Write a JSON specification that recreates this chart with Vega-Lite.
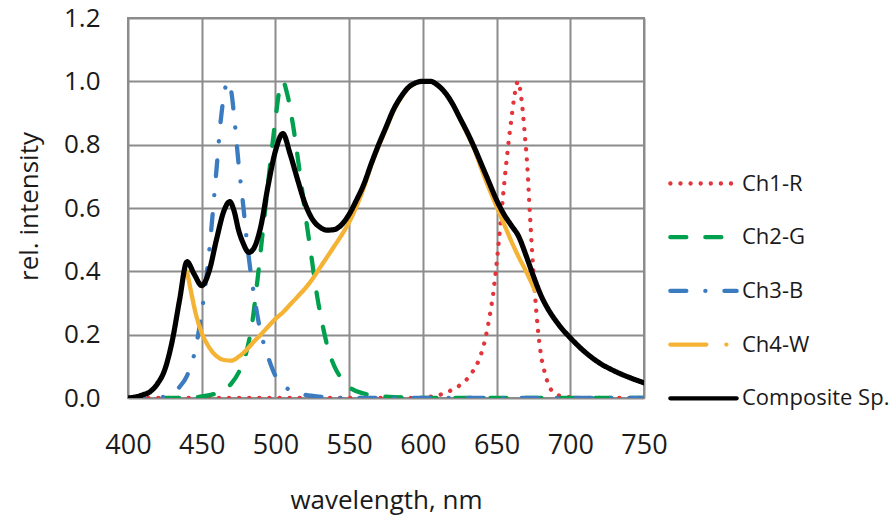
{
  "$schema": "https://vega.github.io/schema/vega-lite/v6.json",
  "width": 516,
  "height": 380,
  "autosize": {"type": "none"},
  "padding": {"left": 128, "top": 18, "right": 249, "bottom": 127},
  "background": "white",
  "config": {
    "view": {"stroke": "#8c8c8c", "strokeWidth": 2},
    "font": "Open Sans"
  },
  "data": {"values": [
    {"wl":400,"v":0,"s":"Ch1-R"},{"wl":600,"v":0,"s":"Ch1-R"},{"wl":605,"v":0.004,"s":"Ch1-R"},{"wl":610,"v":0.008,"s":"Ch1-R"},{"wl":615,"v":0.016,"s":"Ch1-R"},{"wl":620,"v":0.026,"s":"Ch1-R"},{"wl":625,"v":0.04,"s":"Ch1-R"},{"wl":630,"v":0.06,"s":"Ch1-R"},{"wl":634,"v":0.085,"s":"Ch1-R"},{"wl":638,"v":0.12,"s":"Ch1-R"},{"wl":642,"v":0.18,"s":"Ch1-R"},{"wl":645,"v":0.25,"s":"Ch1-R"},{"wl":648,"v":0.34,"s":"Ch1-R"},{"wl":651,"v":0.47,"s":"Ch1-R"},{"wl":654,"v":0.62,"s":"Ch1-R"},{"wl":657,"v":0.76,"s":"Ch1-R"},{"wl":660,"v":0.88,"s":"Ch1-R"},{"wl":662,"v":0.95,"s":"Ch1-R"},{"wl":664.5,"v":1.0,"s":"Ch1-R"},{"wl":667,"v":0.94,"s":"Ch1-R"},{"wl":669,"v":0.84,"s":"Ch1-R"},{"wl":671,"v":0.72,"s":"Ch1-R"},{"wl":672.5,"v":0.59,"s":"Ch1-R"},{"wl":674,"v":0.47,"s":"Ch1-R"},{"wl":676,"v":0.33,"s":"Ch1-R"},{"wl":678,"v":0.22,"s":"Ch1-R"},{"wl":680,"v":0.14,"s":"Ch1-R"},{"wl":683,"v":0.075,"s":"Ch1-R"},{"wl":688,"v":0.02,"s":"Ch1-R"},{"wl":695,"v":0.005,"s":"Ch1-R"},{"wl":710,"v":0,"s":"Ch1-R"},{"wl":750,"v":0,"s":"Ch1-R"},

    {"wl":400,"v":0,"s":"Ch2-G"},{"wl":440,"v":0,"s":"Ch2-G"},{"wl":450,"v":0.005,"s":"Ch2-G"},{"wl":460,"v":0.015,"s":"Ch2-G"},{"wl":465,"v":0.025,"s":"Ch2-G"},{"wl":470,"v":0.045,"s":"Ch2-G"},{"wl":475,"v":0.08,"s":"Ch2-G"},{"wl":480,"v":0.14,"s":"Ch2-G"},{"wl":484,"v":0.23,"s":"Ch2-G"},{"wl":488,"v":0.38,"s":"Ch2-G"},{"wl":492,"v":0.55,"s":"Ch2-G"},{"wl":496,"v":0.72,"s":"Ch2-G"},{"wl":500,"v":0.88,"s":"Ch2-G"},{"wl":503,"v":0.98,"s":"Ch2-G"},{"wl":505,"v":1.0,"s":"Ch2-G"},{"wl":508,"v":0.96,"s":"Ch2-G"},{"wl":512,"v":0.86,"s":"Ch2-G"},{"wl":516,"v":0.73,"s":"Ch2-G"},{"wl":520,"v":0.59,"s":"Ch2-G"},{"wl":524,"v":0.46,"s":"Ch2-G"},{"wl":528,"v":0.33,"s":"Ch2-G"},{"wl":532,"v":0.23,"s":"Ch2-G"},{"wl":536,"v":0.15,"s":"Ch2-G"},{"wl":540,"v":0.1,"s":"Ch2-G"},{"wl":545,"v":0.06,"s":"Ch2-G"},{"wl":550,"v":0.035,"s":"Ch2-G"},{"wl":560,"v":0.014,"s":"Ch2-G"},{"wl":570,"v":0.006,"s":"Ch2-G"},{"wl":580,"v":0.003,"s":"Ch2-G"},{"wl":600,"v":0,"s":"Ch2-G"},{"wl":750,"v":0,"s":"Ch2-G"},

    {"wl":400,"v":0,"s":"Ch3-B"},{"wl":420,"v":0,"s":"Ch3-B"},{"wl":425,"v":0.005,"s":"Ch3-B"},{"wl":430,"v":0.015,"s":"Ch3-B"},{"wl":435,"v":0.035,"s":"Ch3-B"},{"wl":440,"v":0.07,"s":"Ch3-B"},{"wl":445,"v":0.14,"s":"Ch3-B"},{"wl":450,"v":0.27,"s":"Ch3-B"},{"wl":455,"v":0.46,"s":"Ch3-B"},{"wl":460,"v":0.72,"s":"Ch3-B"},{"wl":463,"v":0.88,"s":"Ch3-B"},{"wl":466,"v":0.98,"s":"Ch3-B"},{"wl":468,"v":1.0,"s":"Ch3-B"},{"wl":470,"v":0.97,"s":"Ch3-B"},{"wl":472,"v":0.89,"s":"Ch3-B"},{"wl":475,"v":0.74,"s":"Ch3-B"},{"wl":478,"v":0.615,"s":"Ch3-B"},{"wl":481,"v":0.48,"s":"Ch3-B"},{"wl":485,"v":0.34,"s":"Ch3-B"},{"wl":489,"v":0.23,"s":"Ch3-B"},{"wl":495,"v":0.13,"s":"Ch3-B"},{"wl":500,"v":0.07,"s":"Ch3-B"},{"wl":505,"v":0.04,"s":"Ch3-B"},{"wl":510,"v":0.025,"s":"Ch3-B"},{"wl":520,"v":0.01,"s":"Ch3-B"},{"wl":530,"v":0.004,"s":"Ch3-B"},{"wl":550,"v":0,"s":"Ch3-B"},{"wl":750,"v":0,"s":"Ch3-B"},

    {"wl":440,"v":0.4,"s":"Ch4-W"},{"wl":443,"v":0.33,"s":"Ch4-W"},{"wl":446,"v":0.265,"s":"Ch4-W"},{"wl":450,"v":0.205,"s":"Ch4-W"},{"wl":455,"v":0.16,"s":"Ch4-W"},{"wl":460,"v":0.132,"s":"Ch4-W"},{"wl":465,"v":0.12,"s":"Ch4-W"},{"wl":470,"v":0.118,"s":"Ch4-W"},{"wl":475,"v":0.13,"s":"Ch4-W"},{"wl":480,"v":0.15,"s":"Ch4-W"},{"wl":485,"v":0.176,"s":"Ch4-W"},{"wl":490,"v":0.2,"s":"Ch4-W"},{"wl":495,"v":0.225,"s":"Ch4-W"},{"wl":500,"v":0.25,"s":"Ch4-W"},{"wl":505,"v":0.27,"s":"Ch4-W"},{"wl":510,"v":0.295,"s":"Ch4-W"},{"wl":515,"v":0.32,"s":"Ch4-W"},{"wl":520,"v":0.345,"s":"Ch4-W"},{"wl":525,"v":0.375,"s":"Ch4-W"},{"wl":530,"v":0.41,"s":"Ch4-W"},{"wl":535,"v":0.445,"s":"Ch4-W"},{"wl":540,"v":0.48,"s":"Ch4-W"},{"wl":545,"v":0.515,"s":"Ch4-W"},{"wl":550,"v":0.555,"s":"Ch4-W"},{"wl":555,"v":0.605,"s":"Ch4-W"},{"wl":560,"v":0.665,"s":"Ch4-W"},{"wl":565,"v":0.735,"s":"Ch4-W"},{"wl":570,"v":0.795,"s":"Ch4-W"},{"wl":575,"v":0.85,"s":"Ch4-W"},{"wl":580,"v":0.905,"s":"Ch4-W"},{"wl":585,"v":0.947,"s":"Ch4-W"},{"wl":590,"v":0.978,"s":"Ch4-W"},{"wl":595,"v":0.995,"s":"Ch4-W"},{"wl":600,"v":1.0,"s":"Ch4-W"},{"wl":605,"v":1.0,"s":"Ch4-W"},{"wl":610,"v":0.988,"s":"Ch4-W"},{"wl":615,"v":0.965,"s":"Ch4-W"},{"wl":620,"v":0.93,"s":"Ch4-W"},{"wl":625,"v":0.885,"s":"Ch4-W"},{"wl":630,"v":0.835,"s":"Ch4-W"},{"wl":635,"v":0.785,"s":"Ch4-W"},{"wl":640,"v":0.72,"s":"Ch4-W"},{"wl":645,"v":0.66,"s":"Ch4-W"},{"wl":650,"v":0.605,"s":"Ch4-W"},{"wl":655,"v":0.55,"s":"Ch4-W"},{"wl":660,"v":0.495,"s":"Ch4-W"},{"wl":665,"v":0.445,"s":"Ch4-W"},{"wl":670,"v":0.4,"s":"Ch4-W"},{"wl":676,"v":0.34,"s":"Ch4-W"},

    {"wl":400,"v":0,"s":"Composite Sp."},{"wl":405,"v":0.003,"s":"Composite Sp."},{"wl":410,"v":0.01,"s":"Composite Sp."},{"wl":415,"v":0.02,"s":"Composite Sp."},{"wl":420,"v":0.045,"s":"Composite Sp."},{"wl":425,"v":0.09,"s":"Composite Sp."},{"wl":430,"v":0.18,"s":"Composite Sp."},{"wl":435,"v":0.31,"s":"Composite Sp."},{"wl":440,"v":0.43,"s":"Composite Sp."},{"wl":445,"v":0.39,"s":"Composite Sp."},{"wl":450,"v":0.355,"s":"Composite Sp."},{"wl":455,"v":0.4,"s":"Composite Sp."},{"wl":460,"v":0.5,"s":"Composite Sp."},{"wl":465,"v":0.59,"s":"Composite Sp."},{"wl":469,"v":0.62,"s":"Composite Sp."},{"wl":472,"v":0.59,"s":"Composite Sp."},{"wl":475,"v":0.53,"s":"Composite Sp."},{"wl":478,"v":0.49,"s":"Composite Sp."},{"wl":482,"v":0.46,"s":"Composite Sp."},{"wl":485,"v":0.47,"s":"Composite Sp."},{"wl":490,"v":0.54,"s":"Composite Sp."},{"wl":495,"v":0.67,"s":"Composite Sp."},{"wl":500,"v":0.78,"s":"Composite Sp."},{"wl":505,"v":0.835,"s":"Composite Sp."},{"wl":510,"v":0.77,"s":"Composite Sp."},{"wl":515,"v":0.69,"s":"Composite Sp."},{"wl":520,"v":0.615,"s":"Composite Sp."},{"wl":525,"v":0.565,"s":"Composite Sp."},{"wl":530,"v":0.54,"s":"Composite Sp."},{"wl":535,"v":0.53,"s":"Composite Sp."},{"wl":540,"v":0.532,"s":"Composite Sp."},{"wl":545,"v":0.548,"s":"Composite Sp."},{"wl":550,"v":0.58,"s":"Composite Sp."},{"wl":555,"v":0.625,"s":"Composite Sp."},{"wl":560,"v":0.675,"s":"Composite Sp."},{"wl":565,"v":0.74,"s":"Composite Sp."},{"wl":570,"v":0.8,"s":"Composite Sp."},{"wl":575,"v":0.855,"s":"Composite Sp."},{"wl":580,"v":0.91,"s":"Composite Sp."},{"wl":585,"v":0.95,"s":"Composite Sp."},{"wl":590,"v":0.98,"s":"Composite Sp."},{"wl":595,"v":0.995,"s":"Composite Sp."},{"wl":600,"v":1.0,"s":"Composite Sp."},{"wl":605,"v":1.0,"s":"Composite Sp."},{"wl":610,"v":0.988,"s":"Composite Sp."},{"wl":615,"v":0.965,"s":"Composite Sp."},{"wl":620,"v":0.93,"s":"Composite Sp."},{"wl":625,"v":0.885,"s":"Composite Sp."},{"wl":630,"v":0.84,"s":"Composite Sp."},{"wl":635,"v":0.79,"s":"Composite Sp."},{"wl":640,"v":0.735,"s":"Composite Sp."},{"wl":645,"v":0.68,"s":"Composite Sp."},{"wl":650,"v":0.625,"s":"Composite Sp."},{"wl":655,"v":0.58,"s":"Composite Sp."},{"wl":660,"v":0.545,"s":"Composite Sp."},{"wl":665,"v":0.51,"s":"Composite Sp."},{"wl":670,"v":0.45,"s":"Composite Sp."},{"wl":675,"v":0.385,"s":"Composite Sp."},{"wl":680,"v":0.325,"s":"Composite Sp."},{"wl":685,"v":0.28,"s":"Composite Sp."},{"wl":690,"v":0.245,"s":"Composite Sp."},{"wl":695,"v":0.215,"s":"Composite Sp."},{"wl":700,"v":0.19,"s":"Composite Sp."},{"wl":710,"v":0.145,"s":"Composite Sp."},{"wl":720,"v":0.11,"s":"Composite Sp."},{"wl":730,"v":0.085,"s":"Composite Sp."},{"wl":740,"v":0.065,"s":"Composite Sp."},{"wl":750,"v":0.048,"s":"Composite Sp."}
  ]},
  "encoding": {
    "x": {
      "field": "wl", "type": "quantitative",
      "scale": {"domain": [400, 750], "nice": false, "zero": false},
      "axis": {
        "values": [400, 450, 500, 550, 600, 650, 700, 750],
        "title": "wavelength, nm",
        "grid": true, "gridColor": "#8c8c8c", "gridWidth": 2,
        "domain": false, "ticks": false, "labelFlush": false, "labelOverlap": false,
        "labelFontSize": 27, "labelColor": "#1a1a1a", "labelPadding": 47, "labelFont": "Open Sans", "labelBaseline": "middle",
        "titleFontSize": 26, "titleFontWeight": "normal", "titleColor": "#1a1a1a", "titleFont": "Open Sans",
        "titleY": 102, "titleBaseline": "middle"
      }
    },
    "y": {
      "field": "v", "type": "quantitative",
      "scale": {"domain": [0, 1.2], "nice": false},
      "axis": {
        "values": [0, 0.2, 0.4, 0.6, 0.8, 1.0, 1.2],
        "format": ".1f",
        "title": "rel. intensity",
        "grid": true, "gridColor": "#8c8c8c", "gridWidth": 2,
        "domain": false, "ticks": false, "labelFlush": false, "labelOverlap": false,
        "labelFontSize": 26, "labelColor": "#1a1a1a", "labelPadding": 28, "labelFont": "Open Sans",
        "titleFontSize": 26, "titleFontWeight": "normal", "titleColor": "#1a1a1a", "titleFont": "Open Sans",
        "titleX": -99, "titleY": 188, "titleAngle": -90, "titleBaseline": "middle", "titleAlign": "center"
      }
    },
    "color": {
      "field": "s", "type": "nominal",
      "scale": {
        "domain": ["Ch1-R", "Ch2-G", "Ch3-B", "Ch4-W", "Composite Sp."],
        "range": ["#e2363c", "#00a04e", "#3b7cc0", "#f5b336", "#000000"]
      },
      "legend": {
        "title": null, "orient": "none", "legendX": 540, "legendY": 130,
        "symbolType": "stroke", "symbolSize": 4400, "symbolStrokeWidth": 4.3,
        "labelFontSize": 22, "labelFont": "Open Sans", "labelColor": "#1a1a1a", "labelOffset": 3,
        "rowPadding": 6.7,
        "encode": {"symbols": {"update": {"strokeCap": {"value": "round"}}}}
      }
    }
  },
  "layer": [
    {
      "transform": [{"filter": "datum.s === 'Ch1-R' || datum.s === 'Ch2-G' || datum.s === 'Ch3-B'"}],
      "mark": {"type": "line", "interpolate": "monotone", "strokeCap": "round", "strokeJoin": "round", "strokeWidth": 4.3, "clip": true},
      "encoding": {
        "strokeDash": {
          "field": "s", "type": "nominal",
          "scale": {
            "domain": ["Ch1-R", "Ch2-G", "Ch3-B", "Ch4-W", "Composite Sp."],
            "range": [[0.1, 10], [16, 19], [16, 19, 0.1, 19], [36, 20, 0.1, 20], [1, 0]]
          },
          "legend": {
            "title": null, "orient": "none", "legendX": 540, "legendY": 130,
            "symbolType": "stroke", "symbolSize": 4400, "symbolStrokeWidth": 4.3,
            "labelFontSize": 22, "labelFont": "Open Sans", "labelColor": "#1a1a1a", "labelOffset": 3,
            "rowPadding": 6.7,
            "encode": {"symbols": {"update": {"strokeCap": {"value": "round"}}}}
          }
        }
      }
    },
    {
      "transform": [{"filter": "datum.s === 'Ch4-W'"}],
      "mark": {"type": "line", "interpolate": "monotone", "strokeCap": "round", "strokeJoin": "round", "strokeWidth": 4.3, "clip": true},
      "encoding": {}
    },
    {
      "transform": [{"filter": "datum.s === 'Composite Sp.'"}],
      "mark": {"type": "line", "interpolate": "monotone", "strokeCap": "round", "strokeJoin": "round", "strokeWidth": 5.2, "clip": true},
      "encoding": {
        "strokeDash": {
          "field": "s", "type": "nominal",
          "scale": {
            "domain": ["Ch1-R", "Ch2-G", "Ch3-B", "Ch4-W", "Composite Sp."],
            "range": [[0.1, 10], [16, 19], [16, 19, 0.1, 19], [36, 20, 0.1, 20], [1, 0]]
          },
          "legend": {
            "title": null, "orient": "none", "legendX": 540, "legendY": 130,
            "symbolType": "stroke", "symbolSize": 4400, "symbolStrokeWidth": 4.3,
            "labelFontSize": 22, "labelFont": "Open Sans", "labelColor": "#1a1a1a", "labelOffset": 3,
            "rowPadding": 6.7,
            "encode": {"symbols": {"update": {"strokeCap": {"value": "round"}}}}
          }
        }
      }
    }
  ]
}
